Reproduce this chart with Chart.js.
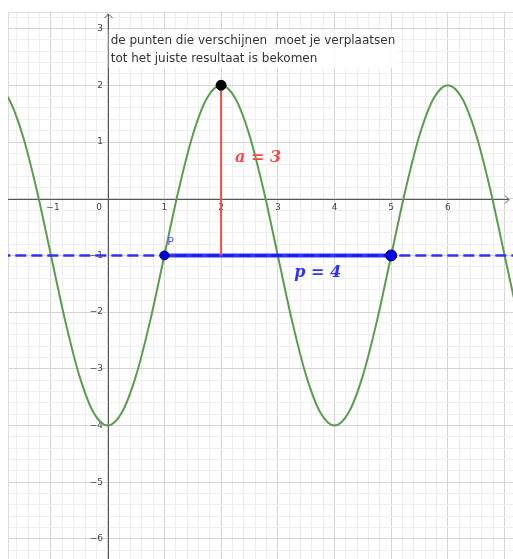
<!DOCTYPE html>
<html>
<head>
<meta charset="utf-8">
<script src="https://cdn.jsdelivr.net/npm/chart.js@4/dist/chart.umd.min.js"></script>
<style>
  html, body { margin: 0; padding: 0; background: #ffffff; overflow: hidden; }
  #wrap { width: 513px; height: 559px; }
  canvas { display: block; }
</style>
</head>
<body>
<div id="wrap"><canvas id="graph" width="513" height="559"></canvas></div>
<script>
// curve (x, y pairs)
const curveX = [-2, -1.75, -1.5, -1.25, -1, -0.75, -0.5, -0.25, 0, 0.25, 0.5, 0.75, 1, 1.25, 1.5, 1.75,
    2, 2.25, 2.5, 2.75, 3, 3.25, 3.5, 3.75, 4, 4.25, 4.5, 4.75, 5, 5.25, 5.5, 5.75,
    6, 6.25, 6.5, 6.75, 7, 7.25];
const curveY = [2, 1.77, 1.12, 0.15, -1, -2.15, -3.12, -3.77, -4, -3.77, -3.12, -2.15, -1, 0.15, 1.12, 1.77,
    2, 1.77, 1.12, 0.15, -1, -2.15, -3.12, -3.77, -4, -3.77, -3.12, -2.15, -1, 0.15, 1.12, 1.77,
    2, 1.77, 1.12, 0.15, -1, -2.15];

const amplitudeX = [2, 2];
const amplitudeY = [-1, 2];
const midlineY = -1;
const periodX = [1, 5];
const pointP = [1, -1];
const pointEnd = [5, -1];
const pointTop = [2, 2];

const xTickLabels = [-1, 0, 1, 2, 3, 4, 5, 6];
const yTickLabels = [3, 2, 1, -1, -2, -3, -4, -5, -6];

const noteLines = ['de punten die verschijnen  moet je verplaatsen', 'tot het juiste resultaat is bekomen'];

const X_MIN = -1.758, X_MAX = 7.148;
const Y_MIN = -6.354, Y_MAX = 3.293;

const GREEN = '#5c9b50';
const RED = '#ff4a4a';
const BLUE = '#3030ff';

function minorTicks(scale) {
    const t = [];
    for (let i = Math.ceil(scale.min * 5); i <= Math.floor(scale.max * 5); i++) t.push({ value: i / 5 });
    scale.ticks = t;
}
function gridColor(ctx) {
    const v = ctx.tick ? ctx.tick.value : 0;
    return Math.abs(v - Math.round(v)) < 1e-6 ? '#d4d4d4' : '#eeeeee';
}
const minus = n => (n < 0 ? '\u2212' + Math.abs(n) : String(n));

const axesPlugin = {
    id: 'axesPlugin',
    beforeDatasetsDraw(chart) {
        const { ctx, chartArea: a, scales: { x, y } } = chart;
        const x0 = Math.round(x.getPixelForValue(0)), y0 = Math.round(y.getPixelForValue(0));
        ctx.save();
        // frame
        ctx.strokeStyle = '#dcdcdc';
        ctx.lineWidth = 1;
        ctx.beginPath();
        ctx.moveTo(a.left + 0.5, a.bottom);
        ctx.lineTo(a.left + 0.5, a.top + 0.5);
        ctx.lineTo(a.right, a.top + 0.5);
        ctx.stroke();
        // axes
        ctx.strokeStyle = '#555';
        ctx.beginPath();
        ctx.moveTo(a.left, y0 + 0.5);
        ctx.lineTo(a.right - 4, y0 + 0.5);
        ctx.moveTo(x0 + 0.5, a.bottom);
        ctx.lineTo(x0 + 0.5, a.top + 2);
        ctx.stroke();
        // arrow heads
        ctx.beginPath();
        ctx.moveTo(a.right - 8, y0 - 3.5);
        ctx.lineTo(a.right - 4, y0 + 0.5);
        ctx.lineTo(a.right - 8, y0 + 4.5);
        ctx.moveTo(x0 - 3.5, a.top + 6);
        ctx.lineTo(x0 + 0.5, a.top + 2);
        ctx.lineTo(x0 + 4.5, a.top + 6);
        ctx.stroke();
        // tick labels
        ctx.fillStyle = '#444';
        ctx.font = '9px "DejaVu Sans"';
        ctx.textBaseline = 'middle';
        ctx.textAlign = 'center';
        xTickLabels.forEach(v => {
            const px = v === 0 ? x0 - 9 : x.getPixelForValue(v) + (v < 0 ? 2 : 0);
            ctx.fillText(minus(v), px, y0 + 9);
        });
        ctx.textAlign = 'right';
        yTickLabels.forEach(v => {
            ctx.fillText(minus(v), x0 - 5, y.getPixelForValue(v));
        });
        ctx.restore();
    },
    afterDatasetsDraw(chart) {
        const { ctx, scales: { x, y } } = chart;
        ctx.save();
        // label P
        ctx.fillStyle = '#5555ff';
        ctx.font = '11px "DejaVu Sans"';
        ctx.textBaseline = 'middle';
        ctx.textAlign = 'left';
        ctx.fillText('P', x.getPixelForValue(1.05), y.getPixelForValue(-0.77));
        // math labels
        ctx.font = 'bold italic 16px "DejaVu Serif"';
        ctx.fillStyle = RED;
        ctx.fillText('a = 3', x.getPixelForValue(2.245), y.getPixelForValue(0.72));
        ctx.fillStyle = BLUE;
        ctx.fillText('p = 4', x.getPixelForValue(3.29), y.getPixelForValue(-1.31));
        // note text
        const nx = x.getPixelForValue(0) + 1;
        ctx.fillStyle = 'rgba(255,255,255,0.85)';
        ctx.fillRect(nx, 30, 290, 38);
        ctx.fillStyle = '#333';
        ctx.font = '12px "DejaVu Sans"';
        ctx.textBaseline = 'alphabetic';
        ctx.fillText(noteLines[0], nx + 2, 43.5);
        ctx.fillText(noteLines[1], nx + 2, 62);
        ctx.restore();
    }
};

const pts = (xs, ys) => xs.map((v, i) => ({ x: v, y: ys[i] }));

new Chart(document.getElementById('graph'), {
    type: 'line',
    data: {
        datasets: [
            { data: [{ x: pointTop[0], y: pointTop[1] }], showLine: false, pointRadius: 5,
              pointBackgroundColor: '#000', pointBorderColor: '#000', order: 0 },
            { data: [{ x: pointEnd[0], y: pointEnd[1] }], showLine: false, pointRadius: 5.5,
              pointBackgroundColor: '#0000ee', pointBorderColor: '#000066', pointBorderWidth: 1, order: 0 },
            { data: [{ x: pointP[0], y: pointP[1] }], showLine: false, pointRadius: 4.5,
              pointBackgroundColor: '#0000dd', pointBorderColor: '#000066', pointBorderWidth: 1, order: 0 },
            { data: pts(amplitudeX, amplitudeY), borderColor: RED, borderWidth: 2, pointRadius: 0, order: 1 },
            { data: pts(periodX, [midlineY, midlineY]), borderColor: 'rgba(20,20,255,0.85)', borderWidth: 4,
              pointRadius: 0, order: 2 },
            { data: pts([X_MIN - 1, X_MAX + 1], [midlineY, midlineY]), borderColor: BLUE, borderWidth: 2.5,
              borderDash: [11, 5], pointRadius: 0, order: 3 },
            { data: pts(curveX, curveY), borderColor: GREEN, borderWidth: 2, pointRadius: 0,
              cubicInterpolationMode: 'monotone', order: 4 }
        ]
    },
    options: {
        responsive: false,
        animation: false,
        events: [],
        layout: { autoPadding: false, padding: { left: 8, top: 12, right: 0, bottom: 0 } },
        plugins: { legend: { display: false }, tooltip: { enabled: false } },
        scales: {
            x: {
                type: 'linear', min: X_MIN, max: X_MAX,
                afterBuildTicks: minorTicks,
                ticks: { display: false },
                border: { display: false },
                grid: { color: gridColor, drawTicks: false, lineWidth: 1 }
            },
            y: {
                type: 'linear', min: Y_MIN, max: Y_MAX,
                afterBuildTicks: minorTicks,
                ticks: { display: false },
                border: { display: false },
                grid: { color: gridColor, drawTicks: false, lineWidth: 1 }
            }
        }
    },
    plugins: [axesPlugin]
});
</script>
</body>
</html>
